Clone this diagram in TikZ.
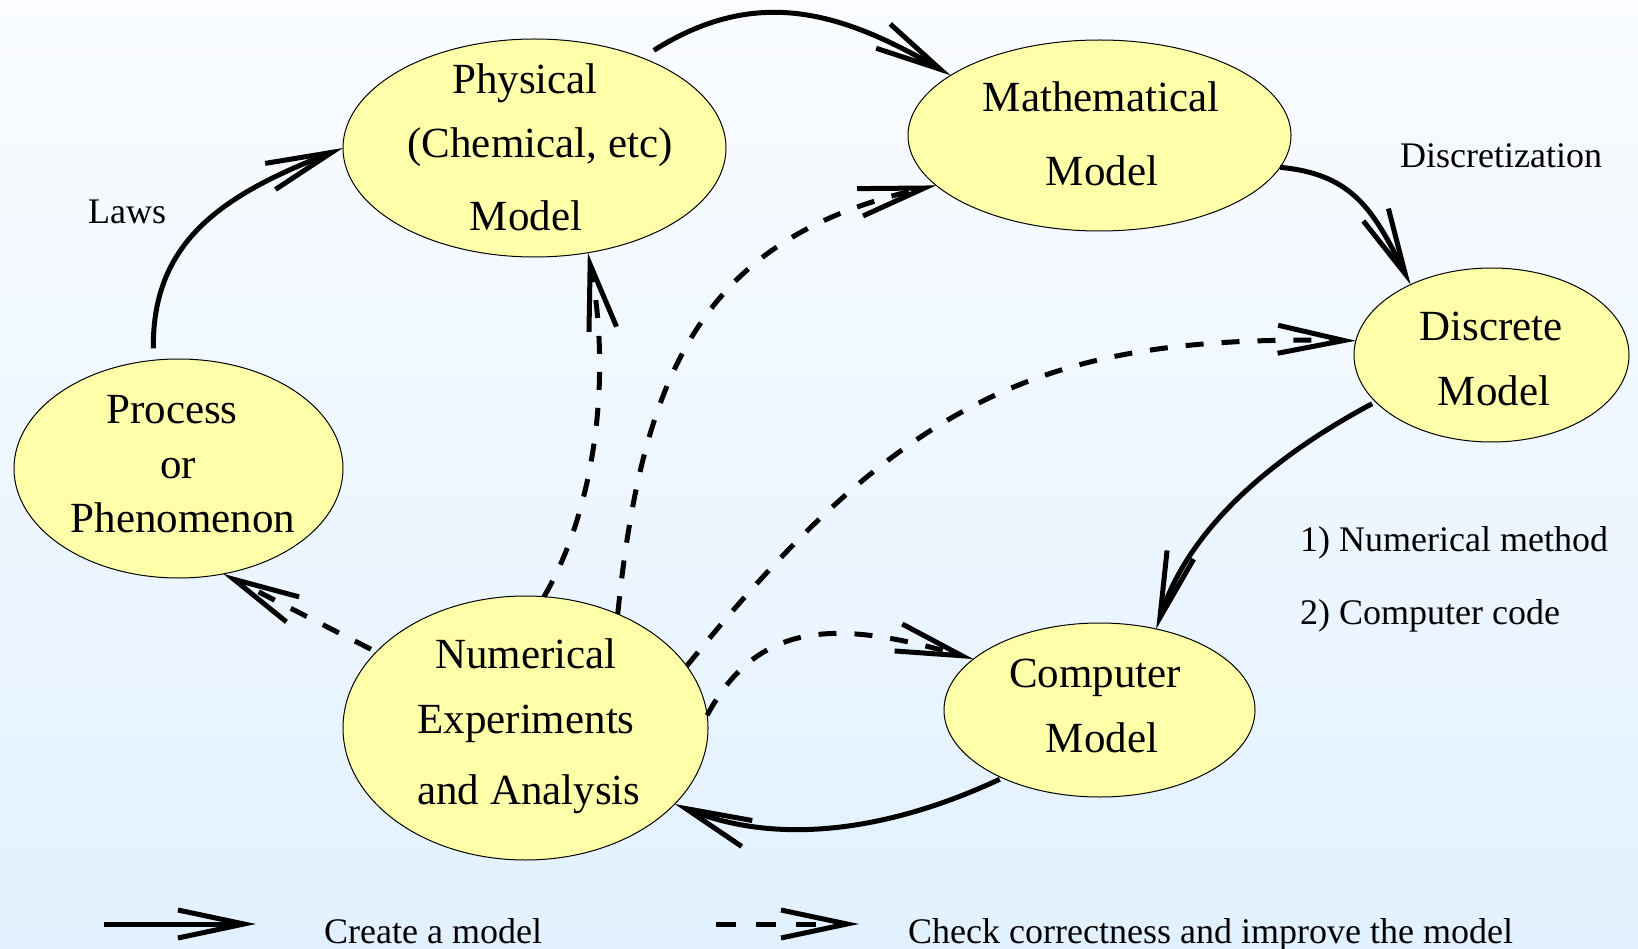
\documentclass[tikz,border=0pt]{standalone}
\usepackage{fontspec}
\setmainfont{Liberation Serif}
\usetikzlibrary{arrows.meta,shapes.geometric}
\definecolor{bgtop}{RGB}{250,252,255}
\definecolor{bgbot}{RGB}{226,241,255}
\definecolor{blobfill}{RGB}{255,255,170}
\begin{document}
\begin{tikzpicture}[x=1pt,y=-1pt,
  blob/.style={ellipse, draw=black, line width=1pt, fill=blobfill, inner sep=0pt, outer sep=0pt},
  big/.style={font=\fontsize{43}{50}\selectfont, anchor=base, inner sep=0pt},
  small/.style={font=\fontsize{36}{43}\selectfont, anchor=base west, inner sep=0pt},
  conn/.style={line width=5pt, -{Straight Barb[length=66pt,width=28pt]}},
  createarrow/.style={conn},
  checkarrow/.style={conn, dash pattern=on 18pt off 18pt}
]
\shade[top color=bgtop, bottom color=bgbot] (0,0) rectangle (1638,949);
\useasboundingbox (0,0) rectangle (1638,949);

% ellipses
\node[blob, minimum width=383pt, minimum height=218pt] (phys) at (534.5,148) {};
\node[blob, minimum width=383pt, minimum height=191pt] (math) at (1099.5,135.5) {};
\node[blob, minimum width=275pt, minimum height=174pt] (disc) at (1491.5,355) {};
\node[blob, minimum width=329pt, minimum height=219pt] (proc) at (178.5,468.5) {};
\node[blob, minimum width=365pt, minimum height=264pt] (numx) at (525.5,728) {};
\node[blob, minimum width=311pt, minimum height=174pt] (comp) at (1099.5,710) {};

% texts
\node[big] (physA) at (525,94) {Physical};
\node[big] (physB) at (540,158) {(Chemical, etc)};
\node[big] (physC) at (526,231) {Model};
\node[big] (mathA) at (1101,112) {Mathematical};
\node[big] (mathB) at (1102,186) {Model};
\node[big] (discA) at (1491,341) {Discrete};
\node[big] (discB) at (1494,405) {Model};
\node[big] (procA) at (172,423) {Process};
\node[big] (procB) at (178,478) {or};
\node[big] (procC) at (183,532) {Phenomenon};
\node[big] (numxA) at (526,668) {Numerical};
\node[big] (numxB) at (526,733) {Experiments};
\node[big] (numxC) at (529,804) {and Analysis};
\node[big] (compA) at (1095,687) {Computer};
\node[big] (compB) at (1102,752) {Model};

% labels
\node[small] (laws) at (88,224) {Laws};
\node[small] (discr) at (1400,168) {Discretization};
\node[small] (nummeth) at (1300,551) {1) Numerical method};
\node[small] (compcode) at (1300,624) {2) Computer code};

% solid connectors
\draw[createarrow, shorten <=12pt] (proc.103.3) .. controls (152,238) and (228,193) .. (phys.180.6);
\draw[createarrow, shorten <=14pt] (phys.40.2) .. controls (756,-14) and (840,11) .. (math.158.7);
\draw[createarrow] (math.350.3) .. controls (1353,174) and (1374,211) .. (disc.139.6);
\draw[createarrow, shorten <=4pt] (disc.202.5) .. controls (1293,446) and (1193,516) .. (comp.55.3);
\draw[createarrow, shorten <=3pt] (comp.215.1) .. controls (900,826) and (785,849) .. (numx.333.1);

% dashed connectors
\draw[checkarrow, shorten <=6pt] (numx.153.4) -- (proc.293);
\draw[checkarrow] (numx.82.5) .. controls (595,510) and (612,377) .. (phys.297.6);
\draw[checkarrow] (numx.51.2) .. controls (643,364) and (708,236) .. (math.197.2);
\draw[checkarrow] (numx.21.5) .. controls (908,391) and (1053,335) .. (disc.174.2);
\draw[checkarrow] (numx.4.7) .. controls (760,616) and (844.5,622) .. (comp.158.7);

% legend
\coordinate (legAs) at (104,924);
\coordinate (legAe) at (256,924);
\coordinate (legBs) at (716,924);
\coordinate (legBe) at (859,924);
\draw[createarrow] (legAs) -- (legAe);
\draw[checkarrow, dash pattern=on 20pt off 20pt] (legBs) -- (legBe);
\node[small] (legA) at (324,943) {Create a model};
\node[small] (legB) at (908,943) {Check correctness and improve the model};
\end{tikzpicture}
\end{document}
